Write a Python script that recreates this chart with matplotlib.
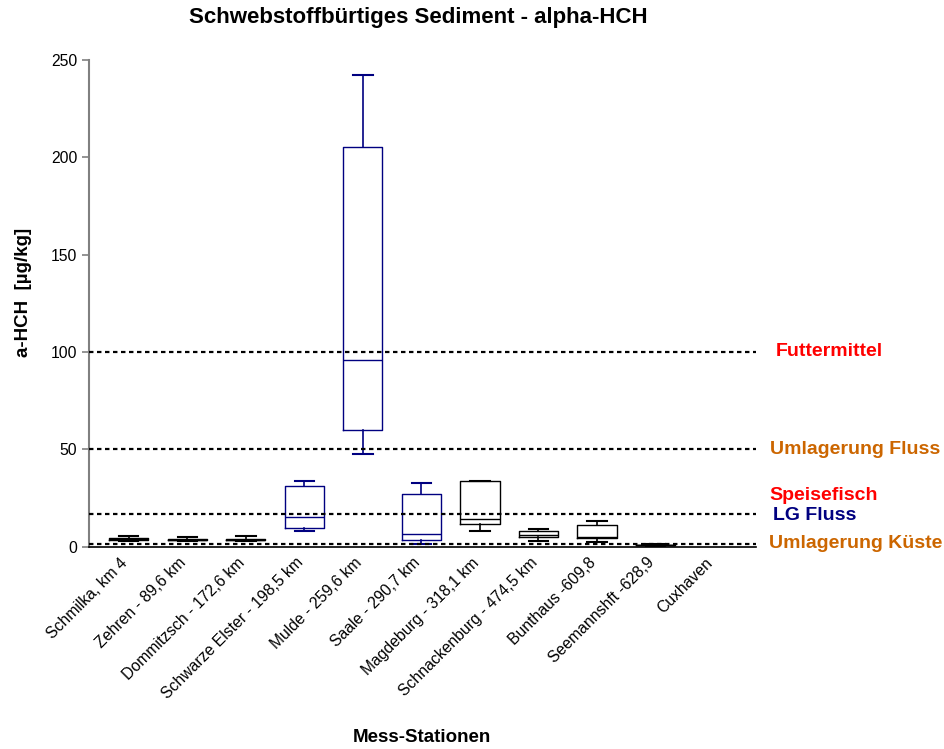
import matplotlib.pyplot as plt
from matplotlib.transforms import ScaledTranslation

plt.rcParams['font.family'] = ['Liberation Sans', 'DejaVu Sans']

stationen = ['Schmilka, km 4', 'Zehren - 89,6 km', 'Dommitzsch - 172,6 km',
             'Schwarze Elster - 198,5 km', 'Mulde - 259,6 km', 'Saale - 290,7 km',
             'Magdeburg - 318,1 km', 'Schnackenburg - 474,5 km', 'Bunthaus -609,8',
             'Seemannshft -628,9', 'Cuxhaven']
# Min, Q1, Median, Q3, Max je Station (Cuxhaven ohne Werte)
w_min = [3.0, 2.9, 3.0, 8.2, 47.6, 1.3, 8.0, 2.9, 2.4, 0.5, None]
q1    = [3.3, 3.2, 3.2, 9.4, 59.9, 3.5, 11.5, 4.8, 4.4, 0.7, None]
med   = [3.8, 3.6, 3.5, 15.1, 95.7, 6.5, 14.3, 6.0, 5.0, 0.9, None]
q3    = [4.3, 4.0, 3.9, 31.3, 205.3, 27.0, 33.6, 8.2, 10.9, 1.0, None]
w_max = [5.3, 5.0, 5.6, 33.9, 242.0, 32.5, 33.9, 8.9, 13.3, 1.3, None]
farben = ['black', 'black', 'black', '#000080', '#000080', '#000080',
          'black', 'black', 'black', 'black', 'black']

grenzwerte = [100, 50, 16.8, 1.3]

fig = plt.figure(figsize=(9.44, 7.49), dpi=100)
ax = fig.add_axes([0.0943, 0.2702, 0.801 - 0.0943, 0.92 - 0.2702])

for i in range(len(stationen)):
    if med[i] is None:
        continue
    st = [{'whislo': w_min[i], 'q1': q1[i], 'med': med[i], 'q3': q3[i],
           'whishi': w_max[i], 'fliers': []}]
    c = farben[i]
    ax.bxp(st, positions=[i + 1], widths=0.67, capwidths=0.33, showfliers=False,
           boxprops=dict(color=c, lw=1.0), medianprops=dict(color=c, lw=1.0),
           whiskerprops=dict(color=c, lw=1.2), capprops=dict(color=c, lw=1.5))

for g in grenzwerte:
    ax.axhline(g, color='black', lw=1.6, ls=(0, (2, 1.6)), zorder=3)

ax.set_xlim(0.32, 11.72)
ax.set_ylim(0, 250)
ax.set_yticks([0, 50, 100, 150, 200, 250])
ax.set_xticks(range(1, len(stationen) + 1))
ax.set_xticklabels(stationen, rotation=45, ha='right', rotation_mode='anchor', fontsize=11.3)
ax.tick_params(axis='x', length=0, pad=6)
ax.tick_params(axis='y', labelsize=11.3, color='#808080', length=5, width=1.2)
# Beschriftungen etwas nach links schieben
verschiebung = ScaledTranslation(-9 / 100, 0, fig.dpi_scale_trans)
for lab in ax.get_xticklabels():
    lab.set_transform(lab.get_transform() + verschiebung)

for s in ['top', 'right']:
    ax.spines[s].set_visible(False)
ax.spines['left'].set_color('#808080')
ax.spines['left'].set_linewidth(1.5)
ax.spines['bottom'].set_color('black')
ax.spines['bottom'].set_linewidth(1.2)

fig.text(418 / 944, 1 - 18 / 749, 'Schwebstoffbürtiges Sediment - alpha-HCH',
         ha='center', va='center', fontsize=16, fontweight='bold')
fig.text(24 / 944, 1 - 292 / 749, 'a-HCH  [µg/kg]', rotation=90,
         ha='center', va='center', fontsize=13.5, fontweight='bold')
fig.text(422 / 944, 1 - 737 / 749, 'Mess-Stationen',
         ha='center', va='center', fontsize=13.5, fontweight='bold')

beschriftung = [('Futtermittel', 776, 352, '#FF0000'),
                ('Umlagerung Fluss', 770, 449, '#CC6600'),
                ('Speisefisch', 769, 495, '#FF0000'),
                ('LG Fluss', 773, 516, '#000080'),
                ('Umlagerung Küste', 769, 543, '#CC6600')]
for txt, x, y, c in beschriftung:
    fig.text(x / 944, 1 - y / 749, txt, ha='left', va='center',
             fontsize=14, fontweight='bold', color=c)

fig.savefig('out.png', dpi=100)
